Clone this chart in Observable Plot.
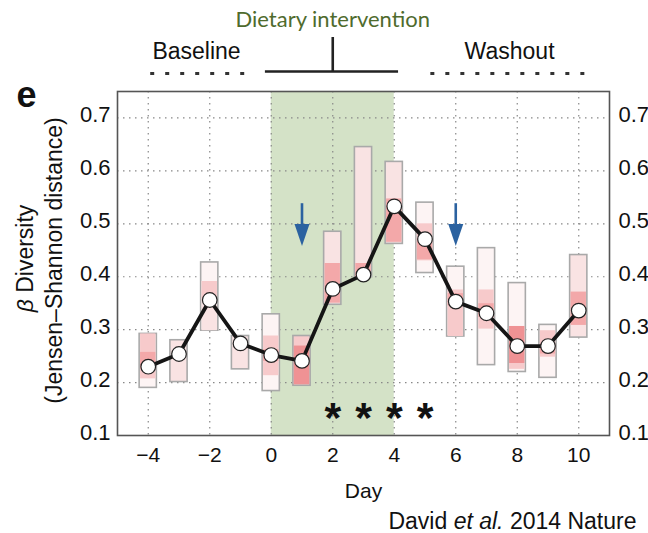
<!DOCTYPE html>
<html><head><meta charset="utf-8">
<script src="https://cdn.jsdelivr.net/npm/d3@7"></script>
<script src="https://cdn.jsdelivr.net/npm/@observablehq/plot@0.6"></script>
<style>body{margin:0;background:#fff} svg{display:block}</style>
</head><body><div id="chart"></div>
<script>
// ---- data ----
const days     = [-4, -3, -2, -1, 0, 1, 2, 3, 4, 5, 6, 7, 8, 9, 10];
const medians  = [0.230, 0.254, 0.356, 0.274, 0.252, 0.241, 0.377, 0.404, 0.533, 0.471, 0.353, 0.331, 0.269, 0.269, 0.336];
const rangeLo  = [0.190, 0.201, 0.298, 0.225, 0.184, 0.194, 0.347, 0.399, 0.462, 0.407, 0.287, 0.233, 0.220, 0.209, 0.285];
const rangeHi  = [0.292, 0.280, 0.427, 0.288, 0.329, 0.288, 0.485, 0.645, 0.617, 0.540, 0.419, 0.454, 0.388, 0.309, 0.441];
const rangeShade = [0, 1, 0, 1, 0, 2, 1, 1, 1, 0, 0, 0, 0, 0, 1];
// inner percentile bands
const bandDay   = [-4, -4, -2, -2, 0, 0, 1, 2, 3, 4, 5, 5, 6, 6, 7, 7, 8, 8, 9, 9, 10];
const bandLo    = [0.207, 0.225, 0.298, 0.355, 0.213, 0.240, 0.196, 0.350, 0.399, 0.465, 0.430, 0.432, 0.287, 0.345, 0.301, 0.323, 0.225, 0.236, 0.248, 0.254, 0.308];
const bandHi    = [0.292, 0.257, 0.391, 0.391, 0.288, 0.262, 0.269, 0.425, 0.425, 0.547, 0.500, 0.472, 0.375, 0.368, 0.375, 0.349, 0.236, 0.306, 0.298, 0.273, 0.371];
const bandShade = [2, 3, 1, 2, 2, 3, 4, 3, 3, 3, 2, 3, 2, 3, 2, 3, 2, 4, 2, 3, 3];
const arrowDays = [1, 6];
const starDays  = [2, 3, 4, 5];
const xTicks = [-4, -2, 0, 2, 4, 6, 8, 10];
const yTicks = [0.1, 0.2, 0.3, 0.4, 0.5, 0.6, 0.7];
const phaseLabels = ["Baseline", "Washout"];
const phaseCenter = [-2.43, 7.75];
const phaseStart  = [-3.92, 5.19];
const phaseEnd    = [-0.86, 10.2];
const intervention = {label: "Dietary intervention", start: 0, end: 4, center: 2, barStart: -0.19, barEnd: 4.14};

const shades = ["#fdf4f4", "#f9e3e3", "#f7cacb", "#f3a8a9", "#ef9294"];

const boxes = days.map((d, i) => ({day: d, median: medians[i], lo: rangeLo[i], hi: rangeHi[i], shade: rangeShade[i]}));
const bands = bandDay.map((d, i) => ({day: d, lo: bandLo[i], hi: bandHi[i], shade: bandShade[i]}));
const phases = phaseLabels.map((l, i) => ({label: l, center: phaseCenter[i], start: phaseStart[i], end: phaseEnd[i]}));

const headSymbol = {draw(ctx) { ctx.moveTo(-7.5, -11); ctx.lineTo(7.5, -11); ctx.lineTo(0, 11); ctx.closePath(); }};
const halfW = 0.28;
const font = "'Liberation Sans', Arial, Helvetica, sans-serif";

const chart = Plot.plot({
  width: 648, height: 533,
  marginLeft: 117, marginRight: 39, marginTop: 91, marginBottom: 98,
  style: {fontFamily: font, background: "#fff", overflow: "visible", color: "#111"},
  x: {domain: [-5, 11]},
  y: {domain: [0.1, 0.75]},
  marks: [
    Plot.rect([intervention], {x1: "start", x2: "end", fill: "#d4e2c7"}),
    Plot.gridX(xTicks, {stroke: "#888", strokeOpacity: 1, strokeWidth: 1.2, strokeDasharray: "1.5,4.5"}),
    Plot.gridY(yTicks, {stroke: "#888", strokeOpacity: 1, strokeWidth: 1.2, strokeDasharray: "1.5,4.5"}),
    Plot.rect(boxes, {x1: d => d.day - halfW, x2: d => d.day + halfW, y1: "lo", y2: "hi", fill: d => shades[d.shade], stroke: "#a9a9a9", strokeWidth: 1.6}),
    Plot.rect(bands, {x1: d => d.day - halfW + 0.03, x2: d => d.day + halfW - 0.03, y1: "lo", y2: "hi", fill: d => shades[d.shade]}),
    Plot.line(boxes, {x: "day", y: "median", stroke: "#151515", strokeWidth: 3.8}),
    Plot.dot(boxes, {x: "day", y: "median", r: 7.3, fill: "white", stroke: "#222", strokeWidth: 1.2}),
    Plot.ruleX(arrowDays, {x: d => d, y1: () => 0.538, y2: () => 0.492, stroke: "#2b62a0", strokeWidth: 2.6}),
    Plot.dot(arrowDays, {x: d => d, y: () => 0.479, symbol: headSymbol, fill: "#2b62a0"}),
    Plot.text(starDays, {x: d => d, y: () => 0.15, text: () => "*", fontSize: 43, fontWeight: "bold", dy: 9, fill: "#111"}),
    Plot.frame({stroke: "#555", strokeWidth: 1.6}),
    Plot.axisY(yTicks, {anchor: "left", tickSize: 0, tickPadding: 7, fontSize: 22, dy: -3, tickFormat: d3.format(".1f"), label: null}),
    Plot.axisY(yTicks, {anchor: "right", tickSize: 0, tickPadding: 9, fontSize: 22, dy: -3, tickFormat: d3.format(".1f"), label: null}),
    Plot.axisX(xTicks, {anchor: "bottom", tickSize: 0, tickPadding: 12, fontSize: 21, label: null}),
    // axis titles and annotations
    Plot.text(["Day"], {frameAnchor: "bottom", lineAnchor: "middle", dy: 56, fontSize: 21}),
    Plot.text(["β Diversity"], {frameAnchor: "left", textAnchor: "middle", lineAnchor: "middle", dx: -92, dy: -5, rotate: -90, fontSize: 23}),
    Plot.text(["(Jensen–Shannon distance)"], {frameAnchor: "left", textAnchor: "middle", lineAnchor: "middle", dx: -63, dy: -3, rotate: -90, fontSize: 23}),
    Plot.text(["e"], {frameAnchor: "top-left", textAnchor: "middle", lineAnchor: "middle", dx: -91, dy: 4, fontSize: 36, fontWeight: "bold"}),
    Plot.text(["David et al. 2014 Nature"], {frameAnchor: "bottom-right", textAnchor: "end", lineAnchor: "middle", dx: 27, dy: 86, fontSize: 23}),
    Plot.text([intervention], {x: "center", text: "label", frameAnchor: "top", lineAnchor: "middle", dy: -72, fontSize: 22, fontFamily: "Lato, 'Open Sans', sans-serif", fill: "#4f6b2d"}),
    Plot.ruleY([intervention], {y: () => 0.75, x1: "barStart", x2: "barEnd", dy: -20, stroke: "#222", strokeWidth: 2.6}),
    Plot.ruleX([intervention], {x: "center", y1: () => 0.7878, y2: () => 0.852, stroke: "#222", strokeWidth: 2.6}),
    Plot.text(phases, {x: "center", text: "label", frameAnchor: "top", lineAnchor: "middle", dy: -40, fontSize: 23}),
    Plot.ruleY(phases, {y: () => 0.75, x1: "start", x2: "end", dy: -18, stroke: "#333", strokeWidth: 3, strokeDasharray: "4,11"})
  ]
});

// rich text touches
d3.select(chart).selectAll("text").each(function() {
  const t = d3.select(this);
  if (this.textContent === "β Diversity") {
    t.text(null);
    t.append("tspan").attr("font-style", "italic").text("β");
    t.append("tspan").text(" Diversity");
  } else if (this.textContent === "David et al. 2014 Nature") {
    t.text(null);
    t.append("tspan").text("David ");
    t.append("tspan").attr("font-style", "italic").text("et al.");
    t.append("tspan").text(" 2014 Nature");
  }
});
document.getElementById("chart").append(chart);
</script>
</body></html>
